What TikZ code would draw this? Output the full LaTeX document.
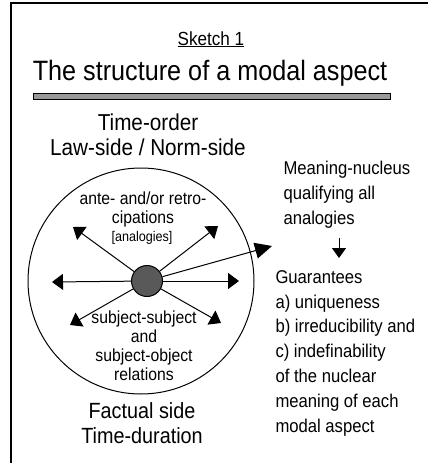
\documentclass[tikz,border=0pt]{standalone}
\usepackage{fontspec}
\setmainfont[FakeStretch=0.9]{Liberation Sans}
\usepackage{tikz}
\usetikzlibrary{arrows.meta}
\tikzset{
	main node/.style={circle,draw,fill=black!65,minimum size=31pt,inner sep=0pt},
	aspect node/.style={circle,draw,minimum size=226pt,inner sep=0pt},
	side text/.style={font=\fontsize{23}{25}\selectfont,align=center,inner sep=0pt,anchor=base},
	ring text/.style={font=\fontsize{17.5}{18.7}\selectfont,align=center,inner sep=0pt,anchor=base},
	note text/.style={font=\fontsize{18.5}{24.8}\selectfont,align=left,inner sep=0pt,anchor=base west}
}

\begin{document}
\begin{tikzpicture}[x=1pt,y=-1pt,line width=1pt,->,>={Triangle[length=11pt,width=16pt]}]
	\useasboundingbox (0,0) rectangle (428,463);
	% frame and heading
	\draw[-,line width=2pt] (11,463) -- (11,3) -- (428,3);
	\node [font=\fontsize{19}{21}\selectfont,inner sep=0pt,anchor=base] (sketch) at (211,45) {\underline{Sketch 1}};
	\node [font=\fontsize{28}{30}\selectfont,inner sep=0pt,anchor=base] (title) at (210,80) {The structure of a modal aspect};
	\draw [-,fill=black!40] (33,93) rectangle (390,99);
	\node [side text] (order) at (148,155) {Time-order\\Law-side / Norm-side};
	% the modal aspect
	\node [aspect node] (aspect) at (141,281) {};
	\node [main node] (nucleus) at (147,281) {};
	\node [ring text] (ante) at (143,223) {ante- and/or retro-\\cipations};
	\node [font=\fontsize{14}{16}\selectfont,inner sep=0pt,anchor=base] (analogies) at (142,241) {[analogies]};
	\node [ring text] (relations) at (144,380) {subject-subject\\and\\subject-object\\relations};
	\node [side text,font=\fontsize{22}{25}\selectfont] (factual) at (142,443) {Factual side\\Time-duration};
	\coordinate (w) at (52,282);
	\coordinate (e) at (239,281);
	\coordinate (nw) at (73,227);
	\coordinate (ne) at (218,226);
	\coordinate (sw) at (70,325);
	\coordinate (se) at (221,323);
	\foreach \tip in {w,e,nw,ne,sw,se}
		\draw (nucleus) -- (\tip);
	\coordinate (out) at (272,246);
	\draw [>={Triangle[length=17pt,width=16pt]}] (nucleus) -- (out);
	% meaning-nucleus
	\node [note text] (meaning) at (283,224) {Meaning-nucleus\\qualifying all\\analogies};
	\coordinate (from) at (339,238);
	\coordinate (to) at (339,258);
	\draw [>={Triangle[length=10pt,width=14pt]}] (from) -- (to);
	\node [note text] (guarantees) at (275,432) {Guarantees\\a) uniqueness\\b) irreducibility and\\c) indefinability\\of the nuclear\\meaning of each\\modal aspect};
\end{tikzpicture}
\end{document}
